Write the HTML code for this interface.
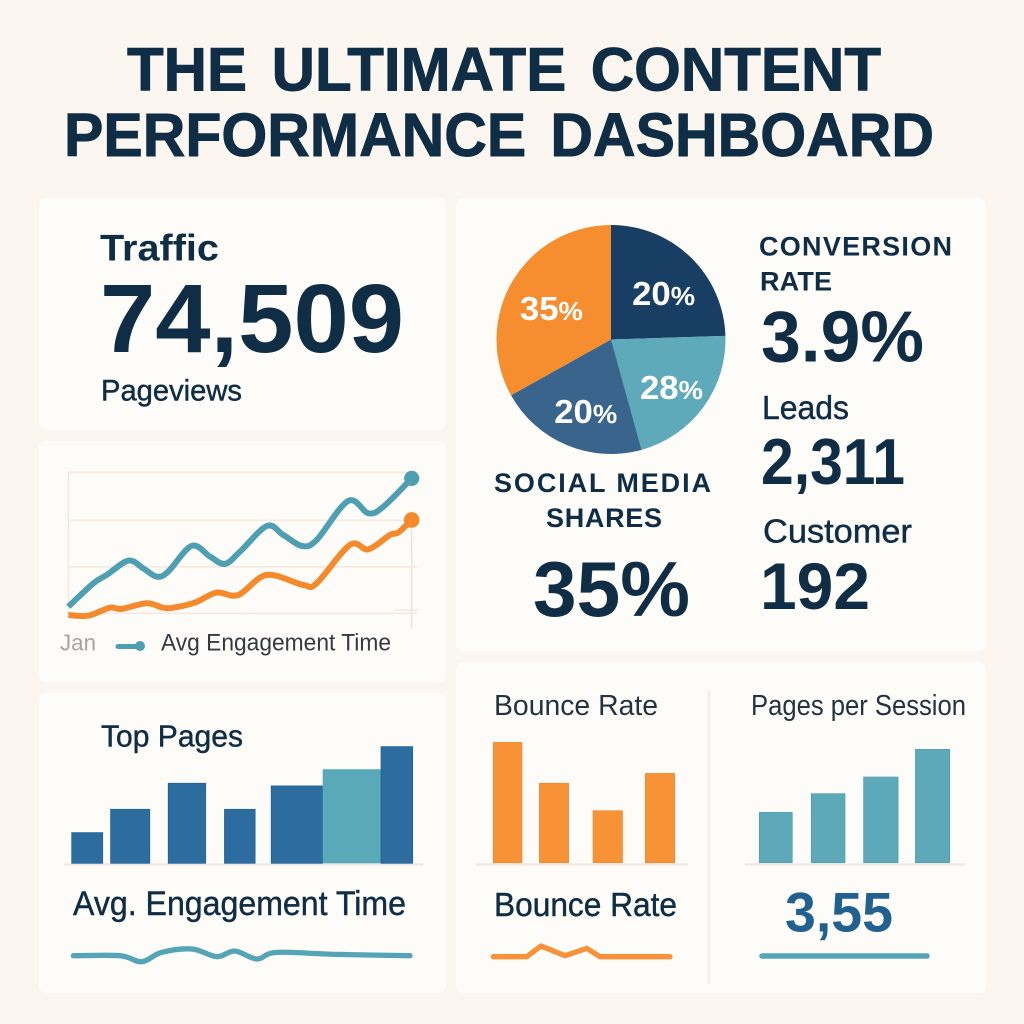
<!DOCTYPE html>
<html lang="en">
<head>
<meta charset="utf-8">
<title>The Ultimate Content Performance Dashboard</title>
<style>
html,body{margin:0;padding:0;background:#fbf6f0;}
svg{display:block;}
text{font-family:"Liberation Sans",sans-serif;fill:#0f2d45;}
.b{font-weight:700;}
.m{stroke:#0f2d45;stroke-width:.45px;}
.t{stroke:#0f2d45;stroke-width:.9px;word-spacing:8px;}
</style>
</head>
<body>
<svg id="dash" xmlns="http://www.w3.org/2000/svg" width="1024" height="1024" viewBox="0 0 1024 1024">
<rect width="1024" height="1024" fill="#fbf6f0"/>
<text class="b t" x="127" y="90.5" font-size="61" textLength="754" lengthAdjust="spacingAndGlyphs">THE ULTIMATE CONTENT</text>
<text class="b t" x="64" y="156" font-size="61" textLength="870" lengthAdjust="spacingAndGlyphs">PERFORMANCE DASHBOARD</text>

<rect x="39" y="198" width="407" height="232" rx="7" fill="#fefcf9"/>
<rect x="39" y="441" width="407" height="241" rx="7" fill="#fefcf9"/>
<rect x="39" y="693" width="407" height="300" rx="7" fill="#fefcf9"/>
<rect x="456" y="198" width="530" height="453" rx="7" fill="#fefcf9"/>
<rect x="456" y="662" width="530" height="331" rx="7" fill="#fefcf9"/>

<text class="b" x="100" y="260.5" font-size="37" textLength="119" lengthAdjust="spacingAndGlyphs">Traffic</text>
<text class="b" x="100" y="352" font-size="97" textLength="304" lengthAdjust="spacingAndGlyphs">74,509</text>
<text class="m" x="101" y="400.5" font-size="30" textLength="141" lengthAdjust="spacingAndGlyphs">Pageviews</text>

<g id="line-chart"></g>
<text x="60" y="650.5" font-size="23" textLength="36" lengthAdjust="spacingAndGlyphs" style="fill:#a8a5a0">Jan</text>
<line x1="118" y1="646.5" x2="140" y2="646.5" stroke="#4f9fb3" stroke-width="5" stroke-linecap="round"/>
<circle cx="140" cy="646" r="5" fill="#4f9fb3"/>
<text x="161" y="650.5" font-size="24" textLength="230" lengthAdjust="spacingAndGlyphs" style="fill:#333a40">Avg Engagement Time</text>

<text class="m" x="101" y="746.5" font-size="31" textLength="142" lengthAdjust="spacingAndGlyphs">Top Pages</text>
<g id="top-pages-chart"></g>
<text class="m" x="73" y="915" font-size="34" textLength="333" lengthAdjust="spacingAndGlyphs">Avg. Engagement Time</text>
<g id="engagement-spark"></g>

<g id="pie-chart"></g>
<text class="b" x="494" y="492" font-size="27" textLength="217" lengthAdjust="spacing">SOCIAL MEDIA</text>
<text class="b" x="546" y="527" font-size="27" textLength="116" lengthAdjust="spacing">SHARES</text>
<text class="b" x="533" y="616" font-size="78" textLength="157" lengthAdjust="spacingAndGlyphs">35%</text>

<text class="b" x="759" y="255.5" font-size="27" textLength="193" lengthAdjust="spacing">CONVERSION</text>
<text class="b" x="760" y="290.5" font-size="27" textLength="72" lengthAdjust="spacing">RATE</text>
<text class="b" x="761" y="361.5" font-size="72" textLength="163" lengthAdjust="spacingAndGlyphs">3.9%</text>
<text class="m" x="762" y="419" font-size="33" textLength="87" lengthAdjust="spacingAndGlyphs">Leads</text>
<text class="b" x="761" y="484" font-size="65" textLength="144" lengthAdjust="spacingAndGlyphs">2,311</text>
<text class="m" x="763" y="542.5" font-size="33" textLength="149" lengthAdjust="spacingAndGlyphs">Customer</text>
<text class="b" x="760" y="609" font-size="66" textLength="110" lengthAdjust="spacingAndGlyphs">192</text>

<text x="494" y="715" font-size="29" textLength="164" lengthAdjust="spacingAndGlyphs" style="fill:#24333f">Bounce Rate</text>
<text x="751" y="715" font-size="29" textLength="215" lengthAdjust="spacingAndGlyphs" style="fill:#24333f">Pages per Session</text>
<line x1="709" y1="690" x2="709" y2="984" stroke="#f3ede6" stroke-width="2.5"/>
<g id="bounce-chart"></g>
<g id="session-chart"></g>
<text class="m" x="494" y="916" font-size="33" textLength="183" lengthAdjust="spacingAndGlyphs">Bounce Rate</text>
<text class="b" x="785" y="931.5" font-size="56" textLength="108" lengthAdjust="spacingAndGlyphs" style="fill:#21608f">3,55</text>
<g id="bounce-spark"></g>
<g id="session-spark"></g>
</svg>

<script>
// Line chart data (time on a 0-100 axis, values on a 0-100 axis)
const tealTime = [0,7.3,11.2,17.5,21.8,25.7,29.1,35.9,41.3,45.6,50,57.8,62.6,68,72.3,81.5,87.4,91.8,100];
const tealValues = [4.7,21.3,27.2,37.4,31.9,26,29.6,47.8,40.2,35,43.7,61.9,55.6,47.8,52,79.7,70.9,75.7,95.7];
const orangeTime = [0,5.8,12.1,15.5,22.8,27.6,30.6,36.9,43.2,49.5,57.8,68.4,72.3,82,87.4,93.7,96.1,100];
const orangeValues = [-1.2,-1.7,4,3.1,7.1,4,4,7.6,14.7,13,27.2,20.1,21.3,48.5,45.4,55.6,57.3,66.2];
const gridValues = [0,33,66,100];

// Top pages bars
const topPagesCategories = ['Page 1','Page 2','Page 3','Page 4','Page 5','Page 6','Page 7'];
const topPagesValues = [26.3,46.3,68.6,46.3,66.3,80.6,100];
const topPagesFrom = [0,11.4,28.3,44.8,58.5,73.6,90.7];
const topPagesTo = [9.1,22.9,39.3,53.8,73.6,90.7,100];
const topPagesHighlight = ['Page 6'];

// Bounce rate bars
const bounceCategories = ['A','B','C','D'];
const bounceValues = [100,66,43.2,74.2];
const bounceFrom = [0,25.4,55,83.8];
const bounceTo = [15.8,41.5,71.2,100];

// Pages per session bars
const sessionCategories = ['A','B','C','D'];
const sessionValues = [44.4,60.9,75.6,100];
const sessionFrom = [0,27.3,54.8,82];
const sessionTo = [17.3,45,72.9,100];

// Pie slices: drawn share and printed label
const pieShares = [24.5,21.2,21.2,33.1];
const pieLabels = ['20','28','20','35'];

// Sparklines
const engageSparkTime = [0,13.9,20.3,26.2,35.2,42.6,48,54.5,60.4,78.2,100];
const engageSparkValues = [0,0,-6,3.3,6.7,-1,4.7,-3.3,3.3,1.3,0];
const bounceSparkTime = [0,18.9,27,40.6,52.9,60.4,100];
const bounceSparkValues = [0,0,10.7,1,8.3,0,0];
const sessionSparkTime = [0,100];
const sessionSparkValues = [0,0];

const NS = 'http://www.w3.org/2000/svg';
function make(parent, tag, props) {
  const el = document.createElementNS(NS, tag);
  for (const k in props) el.setAttribute(k, props[k]);
  parent.appendChild(el);
  return el;
}
function linear(d0, d1, r0, r1) {
  return v => r0 + (v - d0) * (r1 - r0) / (d1 - d0);
}
function smooth(pts) {
  let d = 'M' + pts[0][0].toFixed(1) + ' ' + pts[0][1].toFixed(1);
  for (let i = 0; i < pts.length - 1; i++) {
    const p0 = pts[Math.max(0, i - 1)], p1 = pts[i], p2 = pts[i + 1], p3 = pts[Math.min(pts.length - 1, i + 2)];
    const c1x = p1[0] + (p2[0] - p0[0]) / 6, c1y = p1[1] + (p2[1] - p0[1]) / 6;
    const c2x = p2[0] - (p3[0] - p1[0]) / 6, c2y = p2[1] - (p3[1] - p1[1]) / 6;
    d += 'C' + c1x.toFixed(1) + ' ' + c1y.toFixed(1) + ' ' + c2x.toFixed(1) + ' ' + c2y.toFixed(1) + ' ' + p2[0].toFixed(1) + ' ' + p2[1].toFixed(1);
  }
  return d;
}
function straight(pts) {
  return 'M' + pts.map(p => p[0].toFixed(1) + ' ' + p[1].toFixed(1)).join('L');
}

// ---- Line chart ----
(function () {
  const g = document.getElementById('line-chart');
  const x = linear(0, 100, 68.3, 411.7), y = linear(0, 100, 613.3, 472.3);
  gridValues.forEach(v => {
    const l = make(g, 'line', {x1: x(0), x2: x(100) + (v === 100 ? 0 : 5), y1: y(v), y2: y(v), stroke: '#f5e9df', 'stroke-width': 1.6});
    
    
  });
  const ya = make(g, 'line', {x1: x(0), x2: x(0), y1: y(100), y2: y(0), stroke: '#f5e9df', 'stroke-width': 1.4});
  
  
  const ra = make(g, 'line', {x1: x(100), x2: x(100), y1: y(66), y2: y(-11), stroke: '#efe6dd', 'stroke-width': 1.6});
  
  
  const tk = make(g, 'line', {x1: x(95), x2: x(102), y1: y(2.4), y2: y(2.4), stroke: '#efe6dd', 'stroke-width': 1.4});
  
  

  const orangePts = orangeTime.map((t, i) => [x(t), y(orangeValues[i])]);
  const tealPts = tealTime.map((t, i) => [x(t), y(tealValues[i])]);
  const op = make(g, 'path', {d: smooth(orangePts), fill: 'none', stroke: '#f58a2c', 'stroke-width': 6, 'stroke-linejoin': 'round'});
  
  
  const tp = make(g, 'path', {d: smooth(tealPts), fill: 'none', stroke: '#4f9fb3', 'stroke-width': 6, 'stroke-linejoin': 'round'});
  
  
  const oe = orangePts[orangePts.length - 1], te = tealPts[tealPts.length - 1];
  const oc = make(g, 'circle', {cx: oe[0], cy: oe[1], r: 7.8, fill: '#f58a2c'});
  
  
  const tc = make(g, 'circle', {cx: te[0], cy: te[1], r: 7.6, fill: '#4f9fb3'});
  
  
})();

// ---- Bar charts ----
function bars(id, cats, vals, from, to, x0, x1, base, full, color, edge, highlight) {
  const g = document.getElementById(id);
  const x = linear(0, 100, x0, x1), y = linear(0, 100, base, base - full);
  cats.forEach((c, i) => {
    const hi = highlight.indexOf(c) >= 0;
    const r = make(g, 'rect', {x: x(from[i]), width: x(to[i]) - x(from[i]), y: y(vals[i]), height: base - y(vals[i]),
      fill: hi ? '#5aa9b8' : color, stroke: hi ? 'none' : edge, 'stroke-width': 0.7});
    
    
  });
}
function baseline(id, x1, x2, yy) {
  const l = make(document.getElementById(id), 'line', {x1: x1, x2: x2, y1: yy, y2: yy, stroke: '#f0eae4', 'stroke-width': 2.4});
  
  
}
baseline('top-pages-chart', 64, 423, 864.5);
baseline('bounce-chart', 476, 688, 864.5);
baseline('session-chart', 745, 965, 864.5);
bars('top-pages-chart', topPagesCategories, topPagesValues, topPagesFrom, topPagesTo, 71.7, 412.7, 863.3, 116.7, '#2c6c9e', '#1f5f94', topPagesHighlight);
bars('bounce-chart', bounceCategories, bounceValues, bounceFrom, bounceTo, 493.3, 674.7, 862.7, 120.3, '#f79237', '#f5862a', []);
bars('session-chart', sessionCategories, sessionValues, sessionFrom, sessionTo, 759.3, 949.7, 862.7, 113.3, '#5ea9b9', '#4a9db0', []);

// ---- Sparklines ----
function spark(id, times, vals, x0, x1, yy, color, w, curve) {
  const x = linear(0, 100, x0, x1), y = v => yy - v;
  const pts = times.map((t, i) => [x(t), y(vals[i])]);
  const p = make(document.getElementById(id), 'path', {d: curve(pts), fill: 'none', stroke: color, 'stroke-width': w, 'stroke-linecap': 'round', 'stroke-linejoin': 'round'});
  
  
}
spark('engagement-spark', engageSparkTime, engageSparkValues, 73.3, 410, 955.7, '#55a5b6', 5.3, smooth);
spark('bounce-spark', bounceSparkTime, bounceSparkValues, 493.3, 670, 956.7, '#f7913a', 5.3, straight);
spark('session-spark', sessionSparkTime, sessionSparkValues, 762, 927, 956, '#55a5b6', 5.5, straight);

// ---- Pie ----
(function () {
  const g = document.getElementById('pie-chart');
  const cx = 611, cy = 339.5, R = 114.5;
  const colors = ['#183f63', '#5ea9ba', '#39648c', '#f68d2e'];
  const total = pieShares.reduce((a, b) => a + b, 0);
  let a0 = 0;
  const pt = (a, r) => [cx + r * Math.sin(a), cy - r * Math.cos(a)];
  pieShares.forEach((s, i) => {
    const a1 = a0 + s / total * 2 * Math.PI;
    const p0 = pt(a0, R), p1 = pt(a1, R);
    const large = a1 - a0 > Math.PI ? 1 : 0;
    const path = make(g, 'path', {d: 'M' + cx + ' ' + cy + 'L' + p0[0].toFixed(2) + ' ' + p0[1].toFixed(2) + 'A' + R + ' ' + R + ' 0 ' + large + ' 1 ' + p1[0].toFixed(2) + ' ' + p1[1].toFixed(2) + 'Z', fill: colors[i]});
    
    
    a0 = a1;
  });
  a0 = 0;
  pieShares.forEach((s, i) => {
    const a1 = a0 + s / total * 2 * Math.PI;
    const c = pt((a0 + a1) / 2, 72);
    const t = make(g, 'text', {x: c[0] + 2 - 31, y: c[1] + 5 + 12, 'font-size': 33, 'font-weight': 700, textLength: 63, lengthAdjust: 'spacingAndGlyphs', style: 'fill:#fff'});
    
    
    t.appendChild(document.createTextNode(pieLabels[i]));
    const ts = make(t, 'tspan', {'font-size': 26});
    
    
    ts.textContent = '%';
    a0 = a1;
  });
})();
</script>
</body>
</html>
